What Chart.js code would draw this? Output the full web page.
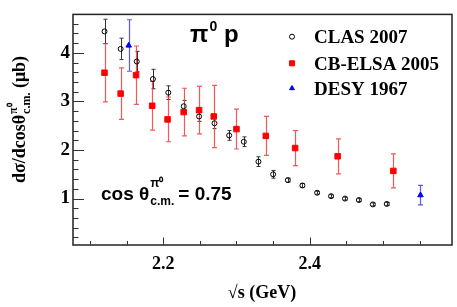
<!DOCTYPE html>
<html>
<head>
<meta charset="UTF-8">
<title>pi0 p cross section</title>
<script src="https://cdn.jsdelivr.net/npm/chart.js"></script>
<style>
  html, body { margin: 0; padding: 0; background: #fff; }
  #wrap { width: 457px; height: 307px; }
</style>
</head>
<body>
<div id="wrap"><canvas id="c" width="457" height="307"></canvas></div>
<script>
// CLAS 2007
const clasX = [2.120, 2.142, 2.164, 2.186, 2.207, 2.228, 2.249, 2.270, 2.290, 2.310, 2.330, 2.350, 2.370, 2.390, 2.410, 2.429, 2.448, 2.467, 2.486, 2.505];
const clasY = [4.44, 4.08, 3.82, 3.46, 3.18, 2.90, 2.69, 2.55, 2.30, 2.17, 1.76, 1.50, 1.38, 1.27, 1.12, 1.05, 1.00, 0.97, 0.88, 0.89];
const clasErr = [0.25, 0.22, 0.21, 0.20, 0.14, 0.12, 0.10, 0.11, 0.10, 0.10, 0.10, 0.08, 0.04, 0.04, 0.03, 0.03, 0.03, 0.03, 0.03, 0.03];
// CB-ELSA 2005
const elsaX = [2.120, 2.142, 2.163, 2.185, 2.206, 2.228, 2.249, 2.269, 2.300, 2.340, 2.380, 2.438, 2.514];
const elsaY = [3.59, 3.16, 3.54, 2.91, 2.63, 2.78, 2.82, 2.69, 2.43, 2.29, 2.04, 1.87, 1.57];
const elsaErr = [0.60, 0.53, 0.60, 0.50, 0.46, 0.49, 0.49, 0.64, 0.41, 0.40, 0.36, 0.36, 0.35];
// DESY 1967
const desyX = [2.153, 2.551];
const desyY = [4.15, 1.07];
const desyErr = [0.53, 0.20];

const xLabels = [2.2, 2.4];
const yLabels = [1, 2, 3, 4];
const legendNames = ['CLAS 2007', 'CB-ELSA 2005', 'DESY 1967'];

const serif = '"Liberation Serif", "Times New Roman", serif';
const sans = '"Liberation Sans", Arial, sans-serif';

function pts(xs, ys) { return xs.map((x, i) => ({ x: x, y: ys[i] })); }

// error bars + frame + ticks + labels
const extras = {
  id: 'extras',
  beforeDatasetsDraw(chart) {
    const ctx = chart.ctx, xs = chart.scales.x, ys = chart.scales.y;
    const sets = [
      [clasX, clasY, clasErr, '#333', 1, 2],
      [elsaX, elsaY, elsaErr, 'rgba(240,60,60,0.85)', 1.2, 2.5],
      [desyX, desyY, desyErr, 'rgba(60,60,240,0.85)', 1.2, 2.5]
    ];
    ctx.save();
    sets.forEach(([X, Y, E, col, lw, cap]) => {
      ctx.strokeStyle = col; ctx.lineWidth = lw;
      X.forEach((x, i) => {
        const px = Math.round(xs.getPixelForValue(x)) + 0.5;
        const t = ys.getPixelForValue(Y[i] + E[i]);
        const b = ys.getPixelForValue(Y[i] - E[i]);
        ctx.beginPath();
        ctx.moveTo(px, t); ctx.lineTo(px, b);
        ctx.moveTo(px - cap, t); ctx.lineTo(px + cap, t);
        ctx.moveTo(px - cap, b); ctx.lineTo(px + cap, b);
        ctx.stroke();
      });
    });
    ctx.restore();
  },
  afterDraw(chart) {
    const ctx = chart.ctx, a = chart.chartArea, xs = chart.scales.x, ys = chart.scales.y;
    ctx.save();
    // frame
    ctx.strokeStyle = '#222'; ctx.lineWidth = 1.5;
    ctx.strokeRect(a.left, a.top, a.right - a.left, a.bottom - a.top);
    // ticks
    ctx.lineWidth = 1; ctx.strokeStyle = '#333';
    ctx.beginPath();
    for (let v = 0.2; v < 4.75; v += 0.2) {
      const py = Math.round(ys.getPixelForValue(v)) + 0.5;
      const major = Math.abs(v - Math.round(v)) < 1e-6;
      ctx.moveTo(a.left, py); ctx.lineTo(a.left + (major ? 11 : 5.5), py);
    }
    for (let v = 2.1; v < 2.58; v += 0.05) {
      const px = Math.round(xs.getPixelForValue(v)) + 0.5;
      const major = Math.abs(v * 5 - Math.round(v * 5)) < 1e-6;
      ctx.moveTo(px, a.bottom); ctx.lineTo(px, a.bottom - (major ? 7.5 : 4));
    }
    ctx.stroke();

    // legend
    const rows = [36.7, 63.3, 88.3];
    const styles = [
      { style: 'circle', r: 2.5, fill: 'rgba(0,0,0,0)', stroke: '#000' },
      { style: 'rect', r: 3.6, fill: '#f00', stroke: '#f00' },
      { style: 'triangle', r: 2.8, fill: '#00f', stroke: '#00f' }
    ];
    styles.forEach((s, i) => {
      ctx.fillStyle = s.fill; ctx.strokeStyle = s.stroke; ctx.lineWidth = 1;
      Chart.helpers.drawPoint(ctx, { pointStyle: s.style, radius: s.r, rotation: 0, borderWidth: 1 }, 292, rows[i]);
      ctx.fillStyle = '#000';
      ctx.font = 'bold 19px ' + serif;
      ctx.textBaseline = 'alphabetic'; ctx.textAlign = 'left';
      ctx.fillText(legendNames[i], 314, rows[i] + 6.5);
    });

    // pi0 p
    ctx.fillStyle = '#000';
    ctx.font = 'bold 24px ' + sans;
    ctx.fillText('\u03c0', 190, 42);
    let w = ctx.measureText('\u03c0').width;
    ctx.font = 'bold 14px ' + sans;
    ctx.fillText('0', 190 + w + 1, 31);
    ctx.font = 'bold 24px ' + sans;
    ctx.fillText('p', 224, 42);

    // cos theta label
    ctx.font = 'bold 19px ' + sans;
    ctx.fillText('cos \u03b8', 101, 200);
    let cx = 101 + ctx.measureText('cos \u03b8').width + 1;
    ctx.font = 'bold 12px ' + sans;
    ctx.fillText('\u03c0\u2070', cx, 187);
    ctx.fillText('c.m.', cx, 205);
    cx += ctx.measureText('c.m.').width + 4;
    ctx.font = 'bold 19px ' + sans;
    ctx.fillText('= 0.75', cx, 200);

    // x title
    ctx.font = 'bold 18px ' + serif;
    ctx.textAlign = 'center';
    ctx.fillText('\u221as (GeV)', 262, 298);

    // y title (rotated)
    ctx.translate(25, 120);
    ctx.rotate(-Math.PI / 2);
    const parts = [
      ['d\u03c3/dcos\u03b8', 'bold 18px ' + serif, 0],
      ['\u03c0\u2070', 'bold 12px ' + serif, -8],
      ['c.m.', 'bold 12px ' + serif, 5],
      [' (\u03bcb)', 'bold 18px ' + serif, 0]
    ];
    ctx.textAlign = 'left';
    let total = 0;
    const widths = parts.map(p => { ctx.font = p[1]; return ctx.measureText(p[0]).width; });
    total = widths[0] + Math.max(widths[1], widths[2]) + widths[3];
    let x0 = -total / 2;
    ctx.font = parts[0][1]; ctx.fillText(parts[0][0], x0, 0); x0 += widths[0] + 1;
    ctx.font = parts[1][1]; ctx.fillText(parts[1][0], x0, parts[1][2]);
    ctx.font = parts[2][1]; ctx.fillText(parts[2][0], x0, parts[2][2]);
    x0 += Math.max(widths[1], widths[2]);
    ctx.font = parts[3][1]; ctx.fillText(parts[3][0], x0, 0);
    ctx.restore();
  }
};

new Chart(document.getElementById('c'), {
  type: 'scatter',
  data: {
    datasets: [
      { label: legendNames[0], data: pts(clasX, clasY), pointStyle: 'circle', pointRadius: 2.5,
        backgroundColor: 'rgba(0,0,0,0)', borderColor: '#000', borderWidth: 1 },
      { label: legendNames[1], data: pts(elsaX, elsaY), pointStyle: 'rect', pointRadius: 3.9,
        backgroundColor: '#f00', borderColor: '#f00', borderWidth: 1 },
      { label: legendNames[2], data: pts(desyX, desyY), pointStyle: 'triangle', pointRadius: 3.2,
        backgroundColor: '#00f', borderColor: '#00f', borderWidth: 1 }
    ]
  },
  options: {
    responsive: false,
    animation: false,
    layout: { padding: { left: 0, right: 5, top: 3, bottom: 0 } },
    plugins: { legend: { display: false }, tooltip: { enabled: false } },
    scales: {
      x: {
        type: 'linear', min: 2.077, max: 2.594,
        afterFit(s) { s.height = 62; },
        afterBuildTicks(s) { s.ticks = xLabels.map(v => ({ value: v })); },
        grid: { display: false, drawTicks: false },
        border: { display: false },
        ticks: { color: '#000', padding: 9, font: { family: serif, size: 18, weight: 'bold' },
          callback: v => v.toFixed(1) }
      },
      y: {
        type: 'linear', min: 0.045, max: 4.79,
        afterFit(s) { s.width = 73; },
        afterBuildTicks(s) { s.ticks = yLabels.map(v => ({ value: v })); },
        grid: { display: false, drawTicks: false },
        border: { display: false },
        ticks: { color: '#000', padding: 3, font: { family: serif, size: 19, weight: 'bold' },
          callback: v => String(v) }
      }
    }
  },
  plugins: [extras]
});
</script>
</body>
</html>
